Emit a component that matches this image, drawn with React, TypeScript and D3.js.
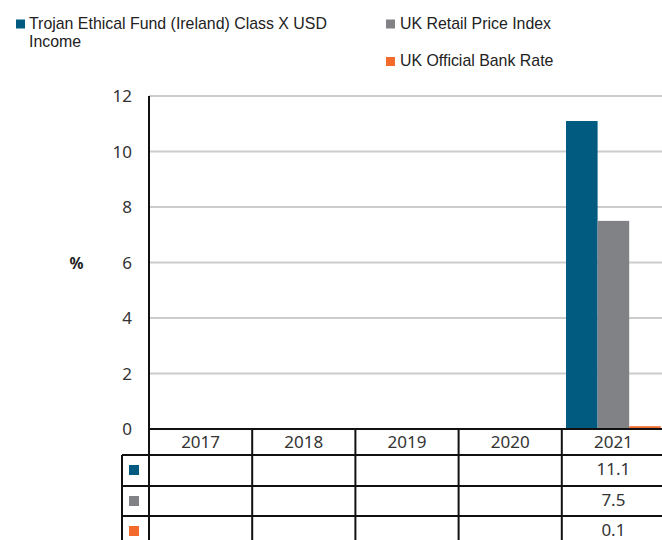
import React from "react";
import * as d3 from "d3";

const years = ["2017", "2018", "2019", "2020", "2021"];
const seriesNames = ["Trojan Ethical Fund (Ireland) Class X USD Income", "UK Retail Price Index", "UK Official Bank Rate"];
const fundValues: (number | null)[] = [null, null, null, null, 11.1];
const rpiValues: (number | null)[] = [null, null, null, null, 7.5];
const bankValues: (number | null)[] = [null, null, null, null, 0.1];
const yTicks = [0, 2, 4, 6, 8, 10, 12];
const colors = ["#015a80", "#818285", "#f26a2c"];

const W = 662, H = 540;
const left = 149, right = 665, top = 96, bottom = 429;
const rowH = [26, 31, 30, 31];

export default function App() {
  const series = [fundValues, rpiValues, bankValues];
  const x = d3.scaleBand<string>().domain(years).range([left, right]).paddingInner(0).paddingOuter(0);
  const x1 = d3.scaleBand<string>().domain(["0", "1", "2"]).range([0, x.bandwidth()]).paddingInner(0).paddingOuter(0.133);
  const y = d3.scaleLinear().domain([0, 12]).range([bottom, top]);
  const font = "'Noto Sans', 'Open Sans', sans-serif";
  const headerBottom = bottom + rowH[0];
  const rowTops = [headerBottom, headerBottom + rowH[1], headerBottom + rowH[1] + rowH[2]];
  const keyLeft = 122;
  const fmt = (v: number) => v.toFixed(1);

  return (
    <svg width={W} height={H} style={{ position: "absolute", left: 0, top: 0, background: "#fff" }}>
      {/* legend */}
      <g fontFamily="'Liberation Sans', Arial, sans-serif" fontSize={15.9} fill="#222">
        <rect x={16} y={19.5} width={9} height={9} fill={colors[0]} />
        <text x={29} y={28.5}>Trojan Ethical Fund (Ireland) Class X USD</text>
        <text x={29} y={46.5}>Income</text>
        <rect x={386} y={19.5} width={9} height={9} fill={colors[1]} />
        <text x={400} y={28.5}>{seriesNames[1]}</text>
        <rect x={386} y={57} width={9} height={9} fill={colors[2]} />
        <text x={400} y={66}>{seriesNames[2]}</text>
      </g>

      {/* gridlines */}
      {yTicks.filter(t => t > 0).map(t => (
        <line key={t} x1={left} x2={W} y1={y(t)} y2={y(t)} stroke="#cccccc" strokeWidth={2} />
      ))}

      {/* y tick labels */}
      <g fontFamily={font} fontSize={17} fill="#333" textAnchor="end">
        {yTicks.map(t => (
          <text key={t} x={132} y={y(t) + 6}>{t}</text>
        ))}
      </g>
      <text x={76.5} y={269} fontFamily={font} fontSize={15.5} fontWeight="bold" fill="#222" textAnchor="middle">%</text>

      {/* bars */}
      {years.map((yr, i) => (
        <g key={yr}>
          {series.map((s, j) => {
            const v = s[i];
            if (v == null) return null;
            return (
              <rect key={j} x={(x(yr) as number) + (x1(String(j)) as number)} width={x1.bandwidth()}
                y={y(v)} height={y(0) - y(v)} fill={colors[j]} />
            );
          })}
        </g>
      ))}

      {/* table */}
      <g stroke="#111" strokeWidth={2}>
        <line x1={left} x2={W} y1={bottom} y2={bottom} />
        <line x1={keyLeft} x2={W} y1={headerBottom} y2={headerBottom} />
        <line x1={keyLeft} x2={W} y1={rowTops[1]} y2={rowTops[1]} />
        <line x1={keyLeft} x2={W} y1={rowTops[2]} y2={rowTops[2]} />
        <line x1={left} x2={left} y1={top} y2={H} />
        <line x1={keyLeft} x2={keyLeft} y1={headerBottom} y2={H} />
        {years.slice(1).map(yr => (
          <line key={yr} x1={x(yr)} x2={x(yr)} y1={bottom} y2={H} />
        ))}
      </g>
      <g fontFamily={font} fontSize={17} fill="#333" textAnchor="middle">
        {years.map(yr => (
          <text key={yr} x={(x(yr) as number) + x.bandwidth() / 2} y={bottom + 19}>{yr}</text>
        ))}
        {series.map((s, j) => (
          <g key={j}>
            <rect x={129} y={rowTops[j] + 10} width={10} height={10} fill={colors[j]} />
            {years.map((yr, i) => s[i] == null ? null : (
              <text key={yr} x={(x(yr) as number) + x.bandwidth() / 2} y={rowTops[j] + 20}>{fmt(s[i] as number)}</text>
            ))}
          </g>
        ))}
      </g>
    </svg>
  );
}
